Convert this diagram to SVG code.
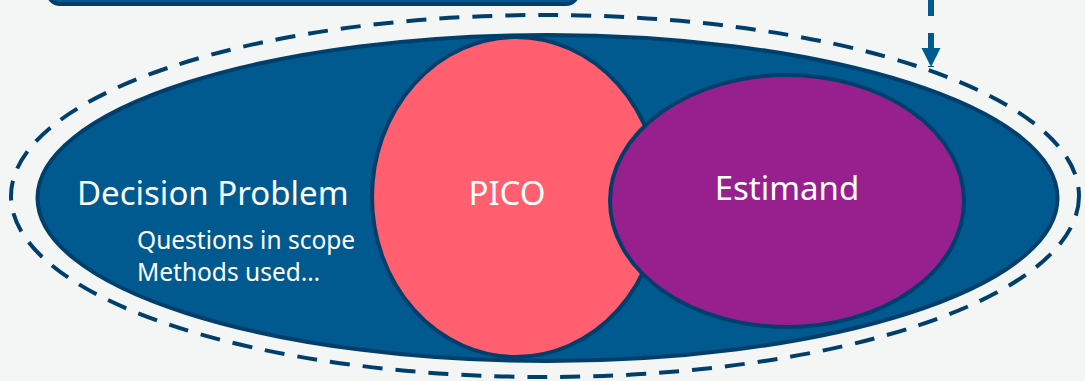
<svg xmlns="http://www.w3.org/2000/svg" width="1085" height="381" viewBox="0 0 1085 381">
<defs>
<style>
.lbl{font-family:"Source Sans Pro","Noto Sans","Open Sans",sans-serif;fill:#ffffff}
.big{font-size:33px}
.small{font-size:24.5px}
.outline{stroke:#003f6b;stroke-width:4}
</style>
<marker id="ah" viewBox="0 0 10 10" refX="10" refY="5" markerWidth="3.2" markerHeight="3.2" orient="auto" markerUnits="strokeWidth">
<path d="M0,0 L10,5 L0,10 z" fill="#005a8f"/>
</marker>
</defs>
<rect x="0" y="0" width="1085" height="381" fill="#f4f6f6"/>
<g id="top-box">
<rect x="48" y="-60" width="530" height="64" rx="12" fill="#005a8f" class="outline"/>
</g>
<g id="connectors">
<line x1="931" y1="0" x2="931" y2="67" stroke="#005a8f" stroke-width="6" stroke-dasharray="16,17" marker-end="url(#ah)"/>
</g>
<g id="scope">
<ellipse cx="545" cy="196" rx="534" ry="181" fill="none" stroke="#003f6b" stroke-width="4" stroke-dasharray="20,13"/>
</g>
<g id="decision-problem">
<ellipse cx="547.5" cy="198" rx="510" ry="163" fill="#005a8f" class="outline"/>
<text class="lbl big" x="77" y="205">Decision Problem</text>
<text class="lbl small" x="137" y="249">Questions in scope</text>
<text class="lbl small" x="137" y="281">Methods used…</text>
</g>
<g id="pico">
<ellipse cx="516" cy="197" rx="144" ry="160" fill="#ff5f6f" class="outline"/>
<text class="lbl big" x="507" y="205" text-anchor="middle">PICO</text>
</g>
<g id="estimand">
<ellipse cx="787" cy="201" rx="177" ry="126" fill="#981f8e" class="outline"/>
<text class="lbl big" x="787" y="200" text-anchor="middle">Estimand</text>
</g>
</svg>
